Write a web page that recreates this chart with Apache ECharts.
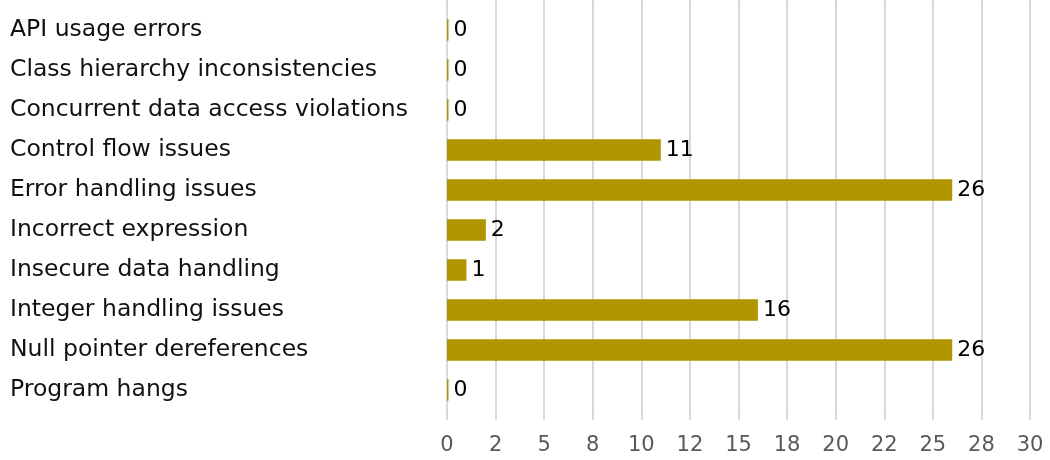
<!DOCTYPE html>
<html><head><meta charset="utf-8">
<script src="https://cdn.jsdelivr.net/npm/echarts@6/dist/echarts.min.js"></script>
<style>html,body{margin:0;padding:0;background:#fff}#c{width:1050px;height:460px}</style>
</head><body><div id="c"></div>
<script>
const categories = ['API usage errors','Class hierarchy inconsistencies','Concurrent data access violations','Control flow issues','Error handling issues','Incorrect expression','Insecure data handling','Integer handling issues','Null pointer dereferences','Program hangs'];
const values = [0,0,0,11,26,2,1,16,26,0];
const tickLabels = ['0','2','5','8','10','12','15','18','20','22','25','28','30'];
const FONT = 'DejaVu Sans';
const chart = echarts.init(document.getElementById('c'), null, {renderer:'canvas'});
chart.setOption({
  animation:false,
  grid:{left:447,right:20,top:10,bottom:50,containLabel:false},
  xAxis:[{
    type:'value',min:0,max:30,interval:2.5,position:'bottom',
    axisLine:{show:false},
    axisTick:{show:true,length:10,lineStyle:{color:'#cccccc',width:1.5}},
    splitLine:{show:true,lineStyle:{color:'#cccccc',width:1.5}},
    axisLabel:{margin:25,fontFamily:FONT,fontSize:21,color:'#595959',
      formatter:v=>tickLabels[Math.round(v/2.5)]}
  },{
    type:'value',min:0,max:30,interval:2.5,position:'top',
    axisLine:{show:false},
    axisTick:{show:true,length:10,lineStyle:{color:'#cccccc',width:1.5}},
    splitLine:{show:false},axisLabel:{show:false}
  }],
  yAxis:{type:'category',data:categories,inverse:true,
    axisLine:{show:false},axisTick:{show:false},
    axisLabel:{align:'left',margin:437,fontFamily:FONT,fontSize:23.5,color:'#111111',verticalAlign:'middle',padding:[6,0,0,0]}},
  series:[{type:'bar',data:values,barWidth:21.5,barMinHeight:1.5,xAxisIndex:0,
    itemStyle:{color:'#b09500'},
    label:{show:true,position:'right',distance:5,fontFamily:FONT,fontSize:22,color:'#000',padding:[4,0,0,0]}}]
});
</script></body></html>
